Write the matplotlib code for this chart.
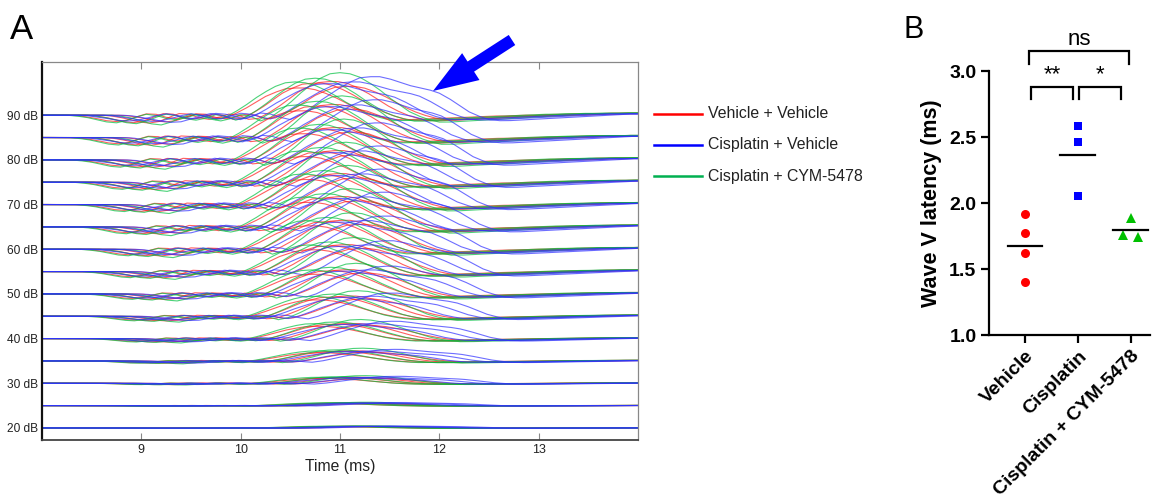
import numpy as np
import matplotlib.pyplot as plt
from matplotlib.lines import Line2D
from matplotlib.patches import FancyArrow
from matplotlib.transforms import IdentityTransform

plt.rcParams['font.family'] = ['Liberation Sans', 'DejaVu Sans']

# ---------------- panel A : ABR traces ----------------
levels = [90, 85, 80, 75, 70, 65, 60, 55, 50, 45, 40, 35, 30, 25, 20]
level_gain = [1.0, 0.98, 0.96, 0.94, 0.92, 0.9, 0.86, 0.8, 0.72, 0.6, 0.45, 0.3, 0.18, 0.08, 0.05]
level_delay = [0.0, 0.02, 0.04, 0.06, 0.08, 0.1, 0.12, 0.14, 0.16, 0.18, 0.2, 0.22, 0.24, 0.26, 0.28]

# time axis of the read-off waveforms (ms), 0.1 ms steps
t_ms = np.round(np.arange(8.0, 14.01, 0.1), 1)

# group-mean waveform at 90 dB (pixels above baseline)
wave_vehicle = [0, 0, 0, 0, 0, 0,
                -0.5, -2, -4, -6.5, -7.5, -6, -2, 1.5, 1, -2.5, -4, -2, 1, 0, -4,
                -3, 2, 8, 15, 22, 27, 31, 32, 32, 30, 26, 21, 15, 9, 4, 0, -3, -5, -5.5, -5,
                -4.5, -4, -3.5, -3, -2.5, -2, -1.5, -1, -1, -0.5, 0, 0, 0.5, 1, 1, 1.5, 1.5, 2, 2, 2]
wave_cisplatin = [0, 0, 0, 0, 0, 0,
                  -0.5, -2, -3.5, -5.5, -6.5, -6, -3.5, -0.5, 1.5, 0, -3, -4, -1, 2, 1,
                  -2, -4, 0, 6, 13, 19, 25, 30, 34, 35, 35, 33, 30, 27, 25, 23, 20, 15, 9, 3,
                  -1, -4, -5, -5, -4.5, -4, -3.5, -3, -2.5, -2, -1.5, -1, -0.5, 0, 0.5, 1, 1, 1.5, 1.5, 1.5]
wave_cym = [0, 0, 0, 0, 0, 0,
            -1, -2.5, -5, -7.5, -8.5, -6, -2, 1, -0.5, -3.5, -5, -3, 0.5, -1, -5,
            -2, 4, 11, 19, 26, 32, 36, 37, 36, 33, 28, 22, 15, 9, 3, -1, -4, -6, -6, -5.5,
            -5, -4.5, -4, -3.5, -3, -2.5, -2, -1.5, -1, -0.5, 0, 0.5, 1, 1, 1.5, 1.5, 2, 2, 2, 2]

# individual animals: extra delay (ms) and gain
delay_vehicle = [0.25, 0.08, -0.08, -0.25]
gain_vehicle = [0.9, 1.05, 1.0, 0.85]
delay_cisplatin = [0.3, 0.1, -0.15]
gain_cisplatin = [1.1, 0.95, 0.9]
delay_cym = [0.2, -0.05, -0.25]
gain_cym = [1.15, 1.0, 0.9]

legend_labels = ['Vehicle + Vehicle', 'Cisplatin + Vehicle', 'Cisplatin + CYM-5478']

# ---------------- panel B : wave V latency ----------------
groups = ['Vehicle', 'Cisplatin', 'Cisplatin + CYM-5478']
lat_vehicle = [1.92, 1.77, 1.62, 1.40]
lat_cisplatin = [2.58, 2.46, 2.05]
lat_cym = [1.89, 1.76, 1.74]

RED, BLUE, GREEN = '#ff1a1a', '#3030ff', '#00c040'

fig = plt.figure(figsize=(11.57, 5.04), dpi=100)

# ---------- A ----------
axA = fig.add_axes([42 / 1157, 1 - 440 / 504, 596 / 1157, 378 / 504])
px_per_db = 4.47
tt = np.linspace(8.0, 14.0, 601)

traces = [(wave_vehicle, delay_vehicle, gain_vehicle, RED),
          (wave_cym, delay_cym, gain_cym, GREEN),
          (wave_cisplatin, delay_cisplatin, gain_cisplatin, BLUE)]

for lev, lg, ld in zip(levels, level_gain, level_delay):
    for wave, dls, gns, col in traces:
        for d, g in zip(dls, gns):
            y = np.interp(tt - ld - d, t_ms, wave) * lg * g / px_per_db
            axA.plot(tt, lev + y, color=col, lw=0.8, alpha=0.7)

axA.set_xlim(8, 14)
axA.set_ylim(17.3, 101.9)
axA.set_xticks([9, 10, 11, 12, 13])
axA.set_yticks(range(20, 91, 10))
axA.set_yticklabels([f'{v} dB' for v in range(20, 91, 10)], fontsize=8.6, color='#222222')
axA.tick_params(axis='y', length=0, pad=3)
axA.tick_params(axis='x', direction='in', top=True, length=5, width=0.8, color='#888888',
                labelsize=9, labelcolor='#222222', pad=3)
axA.set_xlabel('Time (ms)', fontsize=11.3, labelpad=2, color='#222222')
axA.spines['left'].set_linewidth(1.6)
axA.spines['left'].set_color('#111111')
axA.spines['bottom'].set_linewidth(1.3)
axA.spines['bottom'].set_color('#444444')
for s in ['top', 'right']:
    axA.spines[s].set_linewidth(0.9)
    axA.spines[s].set_color('#888888')

# legend drawn by hand
for i, (lab, col) in enumerate(zip(legend_labels, ['#ff0000', '#0000ff', '#00b050'])):
    yy = 1 - (114 + 31 * i) / 504
    fig.add_artist(Line2D([654 / 1157, 702 / 1157], [yy, yy], color=col, lw=1.8))
    fig.text(708 / 1157, yy, lab, fontsize=11.4, va='center', ha='left', color='#222222')

# blue arrow
fig.add_artist(FancyArrow(512, 464, -79, -51, width=12, head_width=32, head_length=45,
                          length_includes_head=True, color='#0000ff', lw=0,
                          transform=IdentityTransform()))

fig.text(10 / 1157, 1 - 39 / 504, 'A', fontsize=25, va='baseline')
fig.text(903 / 1157, 1 - 38 / 504, 'B', fontsize=22, va='baseline')

# ---------- B ----------
axB = fig.add_axes([989 / 1157, 1 - 335 / 504, 161 / 1157, 264 / 504])
jitter = [[0, 0, 0, 0], [0, 0, 0], [0, -0.15, 0.14]]
styles = [('o', '#ff0000', 6.5), ('s', '#0000ff', 6), ('^', '#00c000', 7)]
for i, vals in enumerate([lat_vehicle, lat_cisplatin, lat_cym]):
    m, c, ms = styles[i]
    axB.plot(np.array(jitter[i]) + i, vals, ls='none', marker=m, color=c, ms=ms, mew=0)
    axB.plot([i - 0.33, i + 0.33], [np.mean(vals)] * 2, color='black', lw=1.6)

axB.set_xlim(-0.68, 2.36)
axB.set_ylim(1.0, 3.0)
axB.set_yticks([1.0, 1.5, 2.0, 2.5, 3.0])
axB.set_yticklabels(['1.0', '1.5', '2.0', '2.5', '3.0'], fontsize=14, fontweight='bold')
axB.set_xticks([0, 1, 2])
axB.set_xticklabels(groups, rotation=45, ha='right', rotation_mode='anchor',
                    fontsize=14, fontweight='bold')
axB.tick_params(length=6, width=1.6, color='black', pad=3)
axB.set_ylabel('Wave V latency (ms)', fontsize=15.5, fontweight='bold', labelpad=5)
for s in ['top', 'right']:
    axB.spines[s].set_visible(False)
for s in ['left', 'bottom']:
    axB.spines[s].set_linewidth(1.6)

# significance brackets
brackets = [(0.11, 0.91, 2.88, 2.79, '**'), (1.02, 1.81, 2.88, 2.79, '*'),
            (0.08, 1.96, 3.15, 3.05, 'ns')]
for x0, x1, ytop, ybot, txt in brackets:
    axB.plot([x0, x0, x1, x1], [ybot, ytop, ytop, ybot], color='black', lw=1.6,
             clip_on=False, solid_joinstyle='miter')
    axB.text((x0 + x1) / 2, ytop + 0.01, txt, ha='center', va='bottom', fontsize=16)

fig.savefig('out.png', dpi=100)
